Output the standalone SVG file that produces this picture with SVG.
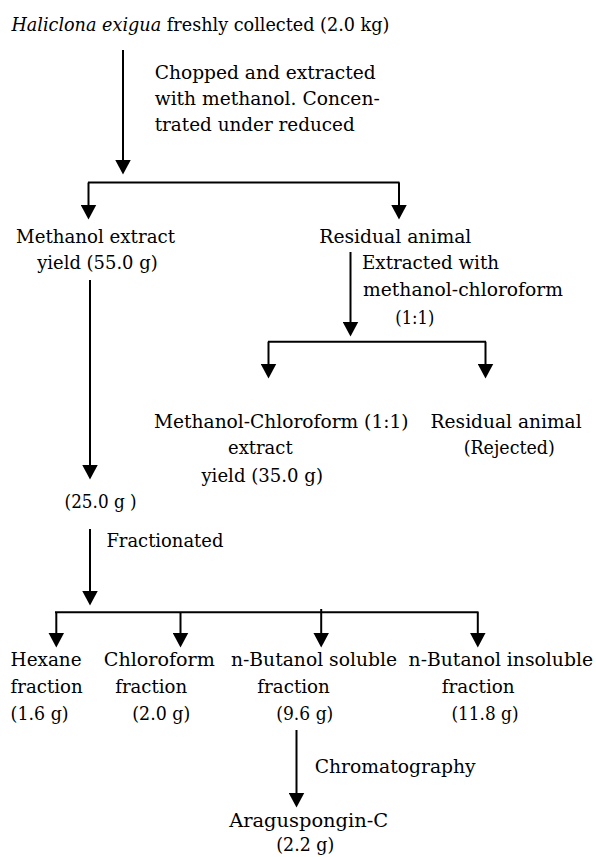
<svg xmlns="http://www.w3.org/2000/svg" width="596" height="857" viewBox="0 0 596 857">
<style>
text{font-family:"DejaVu Serif","Liberation Serif",serif;font-size:18px;fill:#000}
.it{font-style:italic}
.c{stroke:#000;stroke-width:2;fill:none}
.a{stroke:#000;stroke-width:2;fill:none;marker-end:url(#ah)}
</style>
<defs>
<marker id="ah" markerUnits="userSpaceOnUse" markerWidth="16" markerHeight="16" refX="0.5" refY="8" orient="auto" viewBox="0 0 16 16">
<path d="M0,0 L15,8 L0,16 z" fill="#000"/>
</marker>
</defs>
<rect width="596" height="857" fill="#fff"/>
<g id="connectors">
<line class="a" x1="123" y1="50" x2="123" y2="160"/>
<line class="c" x1="88" y1="182.5" x2="399.5" y2="182.5"/>
<line class="a" x1="88.5" y1="182.5" x2="88.5" y2="205"/>
<line class="a" x1="399" y1="182.5" x2="399" y2="205"/>
<line class="a" x1="350.5" y1="252" x2="350.5" y2="322"/>
<line class="c" x1="268" y1="341.7" x2="486" y2="341.7"/>
<line class="a" x1="268.5" y1="341.7" x2="268.5" y2="364"/>
<line class="a" x1="485.5" y1="341.7" x2="485.5" y2="364"/>
<line class="a" x1="90" y1="280" x2="90" y2="465"/>
<line class="a" x1="90" y1="529" x2="90" y2="591"/>
<line class="c" x1="55" y1="612.3" x2="478.5" y2="612.3"/>
<line class="a" x1="56.3" y1="612.3" x2="56.3" y2="633"/>
<line class="a" x1="180.5" y1="612.3" x2="180.5" y2="633"/>
<line class="a" x1="321.2" y1="609" x2="321.2" y2="633"/>
<line class="a" x1="477.8" y1="612.3" x2="477.8" y2="633"/>
<line class="a" x1="296.5" y1="730" x2="296.5" y2="793"/>
</g>
<g id="n-source"><text x="11.4" y="31" textLength="378" lengthAdjust="spacingAndGlyphs"><tspan class="it">Haliclona exigua</tspan> freshly collected (2.0 kg)</text></g>
<g id="l-chopped">
<text x="154.7" y="79" textLength="221" lengthAdjust="spacingAndGlyphs">Chopped and extracted</text>
<text x="154.7" y="104.5" textLength="225" lengthAdjust="spacingAndGlyphs">with methanol. Concen-</text>
<text x="154.7" y="131" textLength="200" lengthAdjust="spacingAndGlyphs">trated under reduced</text>
</g>
<g id="n-methanol-extract">
<text x="16" y="242.7" textLength="159" lengthAdjust="spacingAndGlyphs">Methanol extract</text>
<text x="37.2" y="269.3" textLength="120.5" lengthAdjust="spacingAndGlyphs">yield (55.0 g)</text>
</g>
<g id="n-residual-1"><text x="319.3" y="242.7" textLength="152" lengthAdjust="spacingAndGlyphs">Residual animal</text></g>
<g id="l-extracted">
<text x="362" y="269.3" textLength="137" lengthAdjust="spacingAndGlyphs">Extracted with</text>
<text x="363" y="296" textLength="200" lengthAdjust="spacingAndGlyphs">methanol-chloroform</text>
<text x="395.3" y="324" textLength="39" lengthAdjust="spacingAndGlyphs">(1:1)</text>
</g>
<g id="n-mc-extract">
<text x="154" y="427.7" textLength="254.6" lengthAdjust="spacingAndGlyphs">Methanol-Chloroform (1:1)</text>
<text x="228" y="454.3" textLength="64.6" lengthAdjust="spacingAndGlyphs">extract</text>
<text x="201.4" y="481.7" textLength="121.6" lengthAdjust="spacingAndGlyphs">yield (35.0 g)</text>
</g>
<g id="n-residual-2">
<text x="430.6" y="427.7" textLength="151" lengthAdjust="spacingAndGlyphs">Residual animal</text>
<text x="463.7" y="454.3" textLength="91" lengthAdjust="spacingAndGlyphs">(Rejected)</text>
</g>
<g id="n-25g"><text x="64.6" y="508.3" textLength="72" lengthAdjust="spacingAndGlyphs">(25.0 g )</text></g>
<g id="l-fractionated"><text x="106.4" y="547" textLength="117" lengthAdjust="spacingAndGlyphs">Fractionated</text></g>
<g id="n-hexane">
<text x="10.6" y="666" textLength="71" lengthAdjust="spacingAndGlyphs">Hexane</text>
<text x="10.6" y="693.3" textLength="72" lengthAdjust="spacingAndGlyphs">fraction</text>
<text x="10.6" y="720" textLength="58" lengthAdjust="spacingAndGlyphs">(1.6 g)</text>
</g>
<g id="n-chloroform">
<text x="103.8" y="666" textLength="111" lengthAdjust="spacingAndGlyphs">Chloroform</text>
<text x="115.2" y="693.3" textLength="72" lengthAdjust="spacingAndGlyphs">fraction</text>
<text x="132.3" y="720" textLength="58" lengthAdjust="spacingAndGlyphs">(2.0 g)</text>
</g>
<g id="n-butanol-soluble">
<text x="231" y="666" textLength="166" lengthAdjust="spacingAndGlyphs">n-Butanol soluble</text>
<text x="257.3" y="693.3" textLength="72.6" lengthAdjust="spacingAndGlyphs">fraction</text>
<text x="276.3" y="720" textLength="57" lengthAdjust="spacingAndGlyphs">(9.6 g)</text>
</g>
<g id="n-butanol-insoluble">
<text x="408.6" y="666" textLength="184.4" lengthAdjust="spacingAndGlyphs">n-Butanol insoluble</text>
<text x="441.7" y="693.3" textLength="73" lengthAdjust="spacingAndGlyphs">fraction</text>
<text x="451.5" y="720" textLength="67" lengthAdjust="spacingAndGlyphs">(11.8 g)</text>
</g>
<g id="l-chromatography"><text x="314.7" y="773.3" textLength="161" lengthAdjust="spacingAndGlyphs">Chromatography</text></g>
<g id="n-araguspongin">
<text x="229.2" y="826.7" textLength="159" lengthAdjust="spacingAndGlyphs">Araguspongin-C</text>
<text x="276.3" y="850.7" textLength="58" lengthAdjust="spacingAndGlyphs">(2.2 g)</text>
</g>
</svg>
